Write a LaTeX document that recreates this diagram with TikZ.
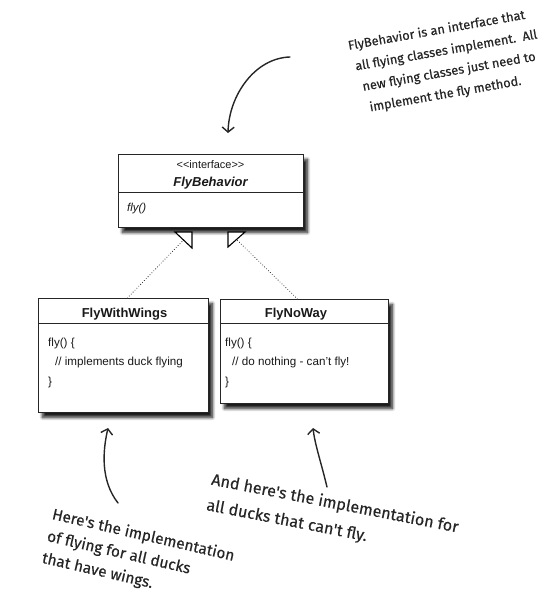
\documentclass[tikz,border=0pt]{standalone}
\usepackage{fontspec}
\setmainfont{Liberation Sans}
\newfontfamily\hand[FakeBold=0.4]{Fira Sans}
\usetikzlibrary{arrows.meta,shadows.blur,calc}
\definecolor{ink}{HTML}{262626}
\begin{document}
\begin{tikzpicture}[x=1bp,y=-1bp,
  umlbox/.style={draw=black!85, line width=0.9bp, fill=white, inner sep=0, anchor=north west,
    blur shadow={shadow xshift=4bp, shadow yshift=-5bp, shadow blur steps=8, shadow blur radius=3bp, shadow opacity=90}},
  sep/.style={draw=black!85, line width=0.9bp},
  realize/.style={draw=black!75, line width=1.1bp, line cap=round, dash pattern=on 0.1bp off 2.6bp},
  tri/.style={draw=black, line width=1.1bp, fill=white, line join=miter},
  note/.style={text=ink, align=left, inner sep=0, anchor=north west},
  scrib/.style={draw=ink, line width=1.4bp, line cap=round, -{Straight Barb[length=5bp,width=12bp,line width=1.4bp]}},
  txt/.style={inner sep=0, text=black!90},
  body/.style={txt, anchor=base west, font=\fontsize{11.7}{13}\selectfont}
]
\useasboundingbox (0,0) rectangle (558,599);

% connectors (realization)
\coordinate (t1) at (183.5,240);
\coordinate (t2) at (236.5,239.5);

% interface box
\node[umlbox, minimum width=185bp, minimum height=73bp] (fb) at (118,154) {};
\draw[sep] ($(fb.north west)+(0,38)$) -- ($(fb.north east)+(0,38)$);
\node[txt, anchor=base, font=\fontsize{11}{12}\selectfont] (fbst) at (210.5,169) {<\kern0pt<interface>\kern0pt>};
\node[txt, anchor=base, font=\fontsize{13}{15}\selectfont\bfseries\itshape] (fbname) at (210.5,186) {FlyBehavior};
\node[body, font=\fontsize{11.5}{13}\selectfont\itshape] (fbop) at (127,211) {fly()};

% FlyWithWings
\node[umlbox, minimum width=170bp, minimum height=114bp] (fww) at (38,298) {};
\draw[sep] ($(fww.north west)+(0,25)$) -- ($(fww.north east)+(0,25)$);
\node[txt, anchor=base, font=\fontsize{13}{15}\selectfont\bfseries] (fwwname) at (124.5,317) {FlyWithWings};
\node[body] (fww1) at (48,346) {fly() \{};
\node[body] (fww2) at (55,365) {// implements duck flying};
\node[body] (fww3) at (48,385) {\}};

% FlyNoWay
\node[umlbox, minimum width=168bp, minimum height=104bp] (fnw) at (220,299) {};
\draw[sep] ($(fnw.north west)+(0,24)$) -- ($(fnw.north east)+(0,24)$);
\node[txt, anchor=base, font=\fontsize{13}{15}\selectfont\bfseries] (fnwname) at (296,317) {FlyNoWay};
\node[body] (fnw1) at (225,346) {fly() \{};
\node[body] (fnw2) at (232,365) {// do nothing - can't fly!};
\node[body] (fnw3) at (225,385) {\}};

% dotted realization lines and triangles
\draw[realize] ($(fww.north)+(4,0)$) -- (t1);
\draw[realize] ($(fnw.north)+(-7,0)$) -- (t2);
\draw[tri] (175,232) -- (192,232) -- (192,248) -- cycle;
\draw[tri] (228,232) -- (245,232) -- (228,247) -- cycle;

% notes
\node[note, rotate=10, font=\hand\fontsize{12.8}{21.5}\selectfont] (n1) at (347,40)
  {FlyBehavior is an interface that\\\hspace*{3.5bp}all flying classes implement.\ \ All\\\hspace*{7bp}new flying classes just need to\\\hspace*{10.5bp}implement the fly method.};
\node[note, rotate=-13, font=\hand\fontsize{15.5}{22.5}\selectfont] (n2) at (54,507)
  {Here's the implementation\\of flying for all ducks\\that have wings.};
\node[note, rotate=-11, font=\hand\fontsize{16.2}{26}\selectfont] (n3) at (213,472)
  {And here's the implementation for\\all ducks that can't fly.};

% scribbled arrows
\coordinate (a1s) at (290,57);
\coordinate (a1e) at (228,133);
\draw[scrib] (a1s) .. controls (255,58) and (229,95) .. (a1e);
\coordinate (a2s) at (118,503);
\coordinate (a2e) at (108,428);
\draw[scrib] (a2s) .. controls (100,480) and (103,450) .. (a2e);
\coordinate (a3s) at (327,487);
\coordinate (a3e) at (313,428);
\draw[scrib] (a3s) .. controls (321,462) and (315,445) .. (a3e);
\end{tikzpicture}
\end{document}
